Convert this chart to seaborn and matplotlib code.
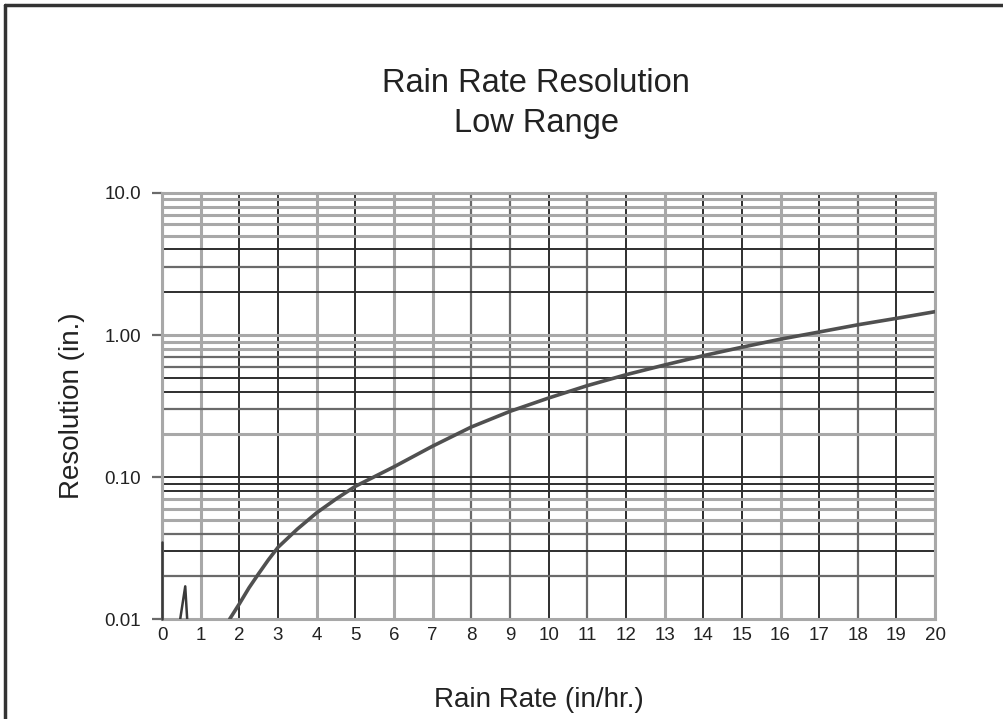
import numpy as np
import matplotlib
matplotlib.use("Agg")
import matplotlib.pyplot as plt
import seaborn as sns
from matplotlib.lines import Line2D

# ---------------------------------------------------------
# Data
# ---------------------------------------------------------
rain_rate = [1.75, 2, 2.25, 2.5, 2.75, 3, 3.5, 4, 4.5, 5, 6, 7, 8, 9, 10,
             11, 12, 13, 14, 15, 16, 17, 18, 19, 20]
resolution = [0.010, 0.0128, 0.0166, 0.0209, 0.0261, 0.032, 0.043, 0.056, 0.070,
              0.086, 0.118, 0.165, 0.225, 0.29, 0.36,
              0.44, 0.525, 0.615, 0.715, 0.82, 0.935, 1.05, 1.18, 1.31, 1.46]

spike_x = [0.47, 0.6, 0.65]
spike_y = [0.010, 0.017, 0.010]

edge_x = [0, 0]
edge_y = [0.010, 0.035]

x_ticks = list(range(0, 21))
y_ticks = [0.01, 0.1, 1.0, 10.0]
y_tick_labels = ["0.01", "0.10", "1.00", "10.0"]

title_lines = ["Rain Rate Resolution", "Low Range"]
x_label = "Rain Rate (in/hr.)"
y_label = "Resolution (in.)"

# ---------------------------------------------------------
# Style
# ---------------------------------------------------------
sns.set_theme(style="white")
plt.rcParams["font.family"] = ["Liberation Sans", "DejaVu Sans"]

DARK = "#2e2e2e"
MID = "#6a6a6a"
LIGHT = "#a8a8a8"
grid_style = {
    DARK: dict(color=DARK, lw=1.4),
    MID: dict(color=MID, lw=1.6),
    LIGHT: dict(color=LIGHT, lw=2.2),
}
# shade of each vertical grid line (x = 0..20), as it looks on the scan
v_shade = [LIGHT, LIGHT, DARK, DARK, LIGHT, DARK, LIGHT, LIGHT, MID, MID, DARK,
           MID, DARK, LIGHT, DARK, DARK, LIGHT, DARK, MID, DARK, LIGHT]
# shade of each horizontal grid line per decade multiplier (2..9)
h_shade = {
    0.01: {2: MID, 3: DARK, 4: MID, 5: LIGHT, 6: LIGHT, 7: LIGHT, 8: DARK, 9: DARK},
    0.1: {2: LIGHT, 3: MID, 4: DARK, 5: DARK, 6: MID, 7: MID, 8: LIGHT, 9: LIGHT},
    1.0: {2: DARK, 3: MID, 4: DARK, 5: LIGHT, 6: LIGHT, 7: LIGHT, 8: LIGHT, 9: LIGHT},
}
decade_shade = {0.1: DARK, 1.0: LIGHT}

fig = plt.figure(figsize=(10.04, 7.19), dpi=100)
ax = fig.add_axes([0.1614, 0.139, 0.77, 0.5926])
ax.set_yscale("log")
ax.set_xlim(0, 20)
ax.set_ylim(0.01, 10)

# grid
for xv, shade in zip(x_ticks, v_shade):
    ax.axvline(xv, zorder=1, **grid_style[shade])
for base, shades in h_shade.items():
    for m, shade in shades.items():
        ax.axhline(base * m, zorder=1, **grid_style[shade])
for yv, shade in decade_shade.items():
    ax.axhline(yv, zorder=1, **grid_style[shade])

# curves (estimator=None so repeated x values are not averaged away)
sns.lineplot(x=rain_rate, y=resolution, ax=ax, color="#505050", lw=2.6,
             sort=False, estimator=None, zorder=3)
sns.lineplot(x=spike_x, y=spike_y, ax=ax, color="#3a3a3a", lw=1.8,
             sort=False, estimator=None, zorder=3)
sns.lineplot(x=edge_x, y=edge_y, ax=ax, color="#3a3a3a", lw=1.8,
             sort=False, estimator=None, zorder=4)
ax.lines[-1].set_clip_on(False)

# axes decoration
for side, sp in ax.spines.items():
    sp.set_color(LIGHT)
    sp.set_linewidth(2.2)
    sp.set_zorder(2)

ax.set_xticks(x_ticks)
ax.set_xticklabels([str(v) for v in x_ticks])
ax.set_yticks(y_ticks)
ax.set_yticklabels(y_tick_labels)
ax.yaxis.set_minor_locator(matplotlib.ticker.NullLocator())
ax.tick_params(axis="x", length=0, pad=6, labelsize=13.5, labelcolor="#222222")
ax.tick_params(axis="y", length=7, width=1.6, color=MID, pad=8, labelsize=13.5,
               labelcolor="#222222", left=True)

ax.set_xlabel(x_label, fontsize=20, color="#222222")
ax.xaxis.set_label_coords(0.488, -0.16)
ax.set_ylabel(y_label, fontsize=20, color="#222222", labelpad=14)

fig.text(0.534, 0.884, title_lines[0], ha="center", va="center", fontsize=23.5, color="#222222")
fig.text(0.534, 0.828, title_lines[1], ha="center", va="center", fontsize=23.5, color="#222222")

# page frame (cut off at right and bottom like the scan)
fig.add_artist(Line2D([0.005, 1.0], [0.993, 0.993], transform=fig.transFigure, color="#333333", lw=2.5))
fig.add_artist(Line2D([0.005, 0.005], [0.0, 0.993], transform=fig.transFigure, color="#333333", lw=2.5))

fig.savefig("out.png", dpi=100)
